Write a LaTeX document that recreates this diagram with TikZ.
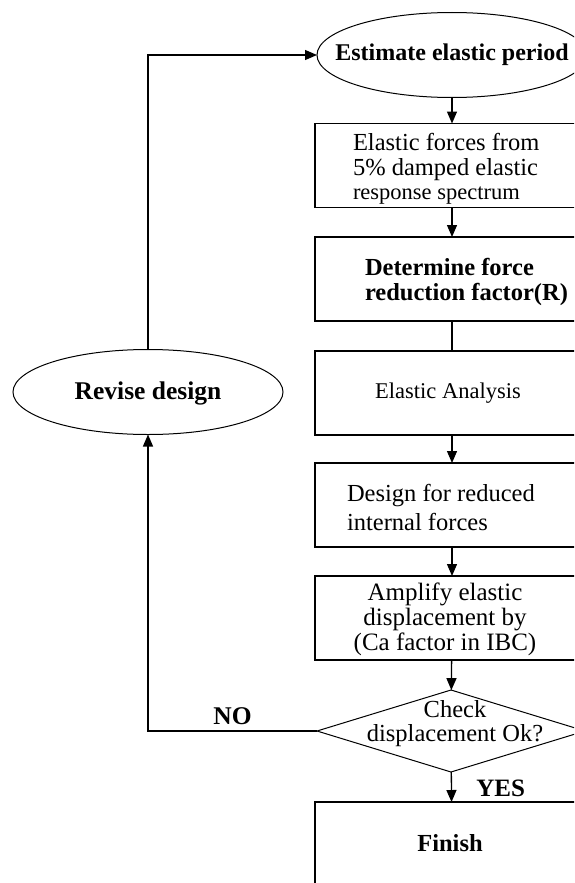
\documentclass[tikz,border=0pt]{standalone}
\usepackage{fontspec}
\setmainfont{Liberation Serif}
\usetikzlibrary{shapes.geometric,arrows.meta}
\begin{document}
\begin{tikzpicture}[x=1pt,y=-1pt,
  every node/.style={inner sep=0pt, outer sep=0pt},
  every label/.style={inner sep=0pt},
  txt/.style={font=\fontsize{24.5}{25}\selectfont},
  lbl/.style={font=\fontsize{24.5}{25}\selectfont\bfseries},
  box/.style={draw, line width=1.3pt, minimum width=274pt, minimum height=84pt},
  oval/.style={draw, ellipse, line width=1pt, minimum width=270pt, minimum height=85pt},
  decision/.style={draw, diamond, line width=1pt, minimum width=268pt, minimum height=82pt},
  conn/.style={line width=1.3pt},
  arr/.style={conn, -{Triangle[length=12pt,width=10pt]}},
]
\fill[white] (0,0) rectangle (574,883);
\useasboundingbox (0,0) rectangle (574,883);
\clip (0,0) rectangle (574,883);

\node[oval, label={[lbl,font=\fontsize{24}{24}\selectfont\bfseries]center:Estimate elastic period}] (est) at (452,55) {};

\node[box, label={[txt,align=left,anchor=west,xshift=38pt,yshift=-3pt]west:Elastic forces from\\5\% damped elastic\\[-1pt]{\fontsize{22.5}{22}\selectfont response spectrum}}] (b1) at (452,165.5) {};

\node[box, label={[lbl,align=left,anchor=west,xshift=50pt,yshift=-3pt]west:Determine force\\reduction factor(R)}] (b2) at (452,279) {};

\node[box, label={[txt,font=\fontsize{22.5}{24}\selectfont,xshift=-4pt]center:Elastic Analysis}] (b3) at (452,393) {};

\node[box, label={[txt,align=left,anchor=west,xshift=32pt,yshift=-2pt]west:Design for reduced\\[4pt]internal forces}] (b4) at (452,505) {};

\node[box, label={[txt,font=\fontsize{25}{25}\selectfont,align=center,xshift=-7pt,yshift=-1pt]center:Amplify elastic\\displacement by\\(Ca factor in IBC)}] (b5) at (452,618) {};

\node[decision, label={[txt,font=\fontsize{24.5}{24}\selectfont,align=center,xshift=4pt,yshift=7pt]center:Check\\displacement Ok?}] (dia) at (451,731) {};

\node[box, minimum height=120pt, anchor=north, label={[lbl,anchor=center,xshift=-2pt,yshift=-41pt]north:Finish}] (fin) at (452,802) {};

\node[oval, label={[lbl,font=\fontsize{25.5}{25}\selectfont\bfseries,yshift=-1pt]center:Revise design}] (rev) at (148,392) {};

\draw[arr] (est) -- (b1);
\draw[arr] (b1) -- (b2);
\draw[conn] (b2) -- (b3);
\draw[arr] (b3) -- (b4);
\draw[arr] (b4) -- (b5);
\draw[arr] (b5) -- (dia);
\draw[arr] (dia) -- node[lbl, font=\fontsize{25}{25}\selectfont\bfseries, right=25pt, yshift=-1pt] {YES} (fin);
\draw[arr] (dia.west) -| node[pos=0.25, lbl, font=\fontsize{25.5}{25}\selectfont\bfseries, above=6pt] {NO} (rev.south);
\draw[arr] (rev.north) |- (est.west);
\end{tikzpicture}
\end{document}
